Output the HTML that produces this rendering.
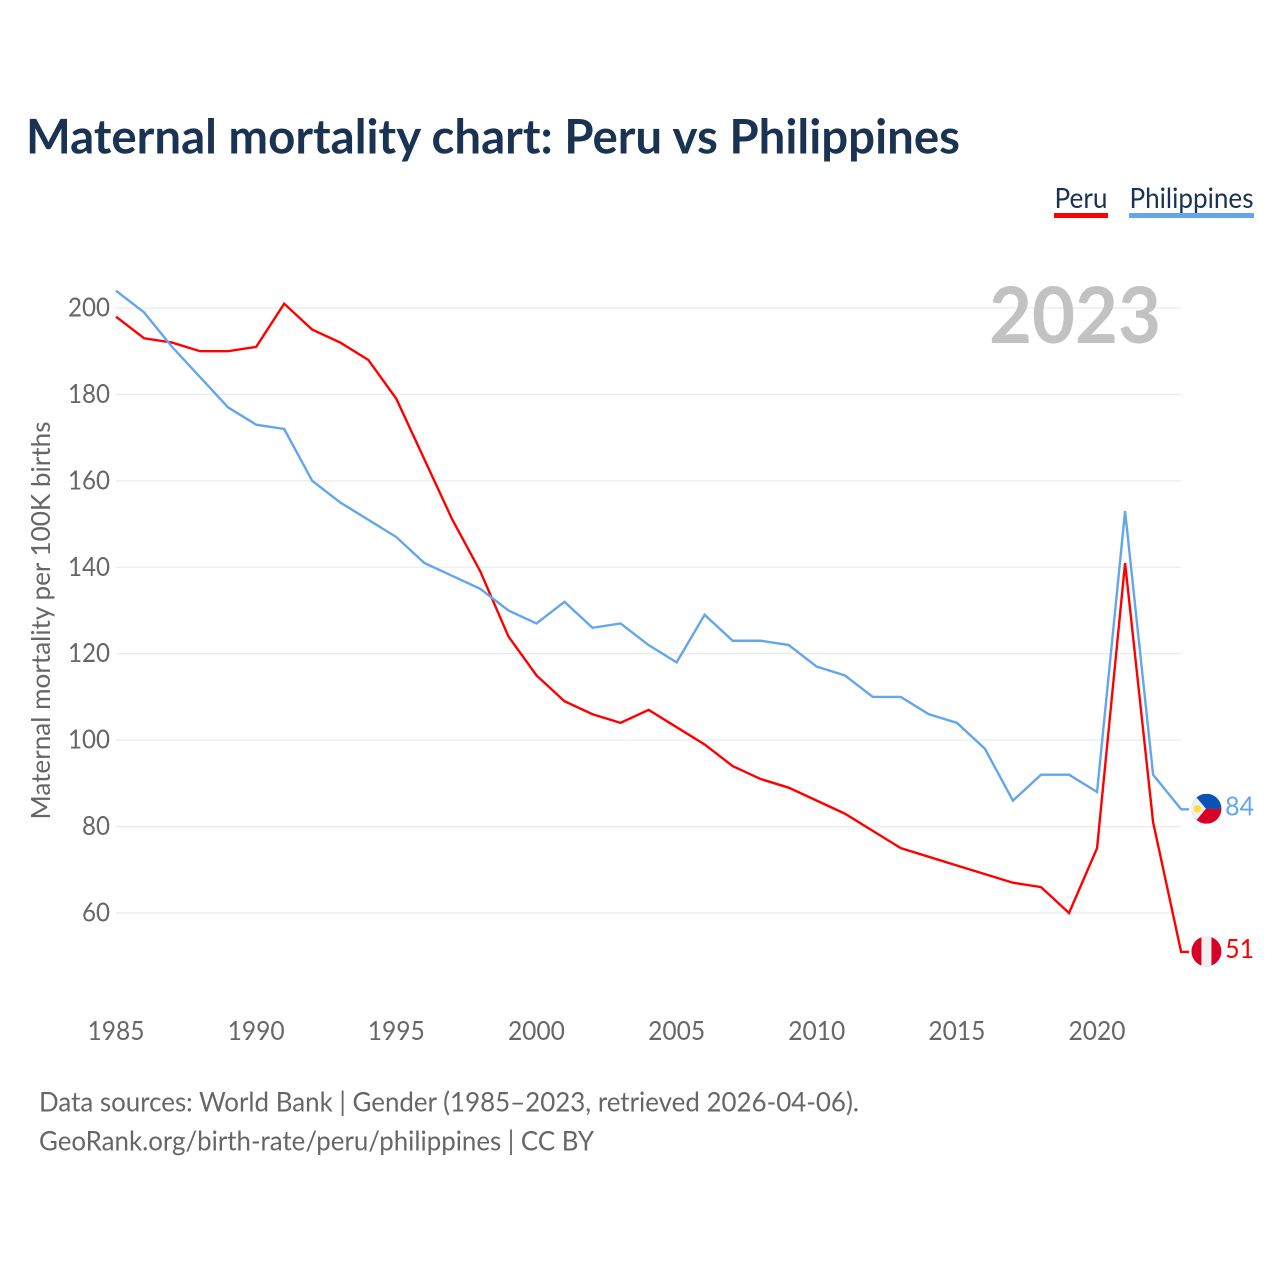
<!DOCTYPE html>
<html lang="en">
<head>
<meta charset="utf-8">
<title>Maternal mortality chart: Peru vs Philippines</title>
<style>
html,body{margin:0;padding:0;background:#fff;}
#chart{display:block;width:1280px;height:1280px;}
text{font-family:"Lato","Carlito","Liberation Sans",sans-serif;}
</style>
</head>
<body>
<svg id="chart" xmlns="http://www.w3.org/2000/svg" width="1280" height="1280" viewBox="0 0 1280 1280">
  <rect width="1280" height="1280" fill="#fff"/>
  <text x="26" y="153.5" font-size="48" font-weight="700" fill="#1a3352" textLength="934" lengthAdjust="spacingAndGlyphs">Maternal mortality chart: Peru vs Philippines</text>

  <g>
    <g>
      <text x="1054.5" y="208" font-size="28" fill="#1a3352" textLength="53" lengthAdjust="spacingAndGlyphs">Peru</text>
      <rect x="1054" y="213" width="54" height="5" fill="#ff0000"/>
    </g>
    <g>
      <text x="1129.5" y="208" font-size="28" fill="#1a3352" textLength="124" lengthAdjust="spacingAndGlyphs">Philippines</text>
      <rect x="1129" y="213" width="125" height="5" fill="#63a6ec"/>
    </g>
  </g>

  <g id="grid"></g>
  <text x="1161" y="343" font-size="78" font-weight="700" fill="#c2c2c2" text-anchor="end" textLength="172" lengthAdjust="spacingAndGlyphs">2023</text>
  <g id="yticks"></g>
  <g id="xticks"></g>
  <text transform="translate(50,620.5) rotate(-90)" font-size="26" fill="#666666" text-anchor="middle" textLength="398" lengthAdjust="spacingAndGlyphs">Maternal mortality per 100K births</text>
  <g id="series"></g>

  <g id="flag-philippines">
    <clipPath id="clip-ph"><circle cx="0" cy="0" r="15"/></clipPath>
    <g clip-path="url(#clip-ph)">
      <rect x="-15" y="-15" width="30" height="15" fill="#0a52b5"/>
      <rect x="-15" y="0" width="30" height="15" fill="#d80027"/>
      <rect x="-15" y="-0.6" width="30" height="1.2" fill="#6b3a6e"/>
      <polygon points="-15,-15 -13,-15 -0.5,0 -13,15 -15,15" fill="#f0f0f0"/>
      <circle cx="-9" cy="0" r="3.8" fill="#ffda44"/>
    </g>
  </g>
  <g id="flag-peru">
    <clipPath id="clip-pe"><circle cx="0" cy="0" r="15"/></clipPath>
    <g clip-path="url(#clip-pe)">
      <rect x="-15" y="-15" width="30" height="30" fill="#d80027"/>
      <rect x="-5" y="-15" width="10" height="30" fill="#f0f0f0"/>
    </g>
  </g>

  <g>
    <text x="39" y="1111.5" font-size="27" fill="#666666" textLength="820" lengthAdjust="spacingAndGlyphs">Data sources: World Bank | Gender (1985–2023, retrieved 2026-04-06).</text>
    <text x="39" y="1150.5" font-size="27" fill="#666666" textLength="555" lengthAdjust="spacingAndGlyphs">GeoRank.org/birth-rate/peru/philippines | CC BY</text>
  </g>
</svg>
<script>
const years = [1985,1986,1987,1988,1989,1990,1991,1992,1993,1994,1995,1996,1997,1998,1999,2000,2001,2002,2003,2004,2005,2006,2007,2008,2009,2010,2011,2012,2013,2014,2015,2016,2017,2018,2019,2020,2021,2022,2023];
const peruValues = [198,193,192,190,190,191,201,195,192,188,179,165,151,139,124,115,109,106,104,107,103,99,94,91,89,86,83,79,75,73,71,69,67,66,60,75,141,81,51];
const philippinesValues = [204,199,191,184,177,173,172,160,155,151,147,141,138,135,130,127,132,126,127,122,118,129,123,123,122,117,115,110,110,106,104,98,86,92,92,88,153,92,84];
const yTickLabels = [60,80,100,120,140,160,180,200];
const xTickLabels = [1985,1990,1995,2000,2005,2010,2015,2020];

const SVG_NS = 'http://www.w3.org/2000/svg';
function xScale(year){ return 116 + (year - 1985) * 28.03; }
function yScale(value){ return 308 + (200 - value) * 4.3214; }
function make(tag, attrs, parent){
  const el = document.createElementNS(SVG_NS, tag);
  for (const k in attrs) el.setAttribute(k, attrs[k]);
  parent.appendChild(el);
  return el;
}

const grid = document.getElementById('grid');
const yticks = document.getElementById('yticks');
const xticks = document.getElementById('xticks');
const seriesGroup = document.getElementById('series');

yTickLabels.forEach(function(v){
  const line = make('line', {x1:116, x2:1181, y1:yScale(v), y2:yScale(v), stroke:'#ebebeb', 'stroke-width':1.3}, grid);
  
  
  const t = make('text', {x:110, y:yScale(v) + 8.5, 'font-size':26, fill:'#666666', 'text-anchor':'end', textLength:42, lengthAdjust:'spacingAndGlyphs'}, yticks);
  
  
  if (v < 100) { t.setAttribute('textLength', 28); }
  t.textContent = v;
});

xTickLabels.forEach(function(y){
  const t = make('text', {x:xScale(y), y:1040, 'font-size':26, fill:'#666666', 'text-anchor':'middle', textLength:57, lengthAdjust:'spacingAndGlyphs'}, xticks);
  
  
  t.textContent = y;
});

function drawSeries(name, values, color, flagId){
  const pts = values.map(function(v, i){ return xScale(years[i]) + ',' + yScale(v); });
  const last = values[values.length - 1];
  const lastX = xScale(years[years.length - 1]);
  const lastY = yScale(last);
  pts.push((lastX + 8) + ',' + lastY);
  const line = make('polyline', {points:pts.join(' '), fill:'none', stroke:color, 'stroke-width':2.4, 'stroke-linejoin':'miter'}, seriesGroup);
  
  
  document.getElementById(flagId).setAttribute('transform', 'translate(' + (lastX + 25.3) + ',' + (lastY - 0.5) + ')');
  const label = make('text', {x:lastX + 44, y:lastY + 6, 'font-size':26, fill:color, textLength:29, lengthAdjust:'spacingAndGlyphs'}, seriesGroup);
  
  
  label.textContent = last;
}

drawSeries('peru', peruValues, '#ff0000', 'flag-peru');
drawSeries('philippines', philippinesValues, '#63a6ec', 'flag-philippines');
</script>
</body>
</html>
